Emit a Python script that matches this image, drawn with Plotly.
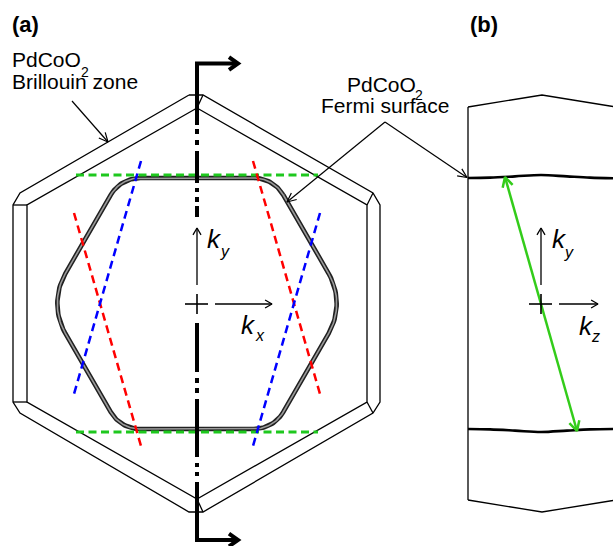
import math
import plotly.graph_objects as go

# ---------------- geometry (pixel-like coordinates, y grows downward) ----------------
CX, CY = 197.0, 303.5          # Gamma point of panel (a)

# Brillouin zone prism of panel (a): inner (front) hexagon and outer (back) outline
bz_inner_x = [197, 367, 367, 197, 27, 27, 197]
bz_inner_y = [108, 205, 402, 499, 402, 205, 108]
bz_outer_x = [189, 203, 373, 380, 380, 373, 203, 189, 20, 13, 13, 20, 189]
bz_outer_y = [95, 95, 193, 205, 402, 413, 512, 512, 413, 402, 205, 193, 95]
# short edges joining the two outlines
bz_link_x = [[203, 197], [197, 203], [367, 373], [367, 373], [13, 27], [13, 27]]
bz_link_y = [[95, 108], [499, 512], [205, 193], [402, 413], [205, 205], [402, 402]]

# Fermi surface: rounded hexagon given by face normals, face distances and the
# rounding radius of the corner that follows each face
fs_face_angle = [30, 90, 150, 210, 270, 330]
fs_face_dist = [129.0, 125.5, 129.0, 129.0, 125.5, 129.0]
fs_corner_r = [34.0, 34.0, 60.0, 34.0, 34.0, 60.0]

# nesting / extremal-orbit guide lines
green_x = [[76, 318], [76, 318]]
green_y = [[175, 175], [432, 432]]
red_x = [[74, 141], [253, 320]]
red_y = [[213, 446], [161, 394]]
blue_x = [[141, 74], [320, 253]]
blue_y = [[161, 394], [213, 446]]

# cut-plane axis (dash-dot-dot) drawn as solid pieces
axis_pieces = [(129, 134), (140, 145), (151, 183), (188, 192), (197, 202),
               (206, 217), (323, 372), (378, 383), (388, 393), (399, 457), (463, 467),
               (472, 476)]
axis_top = ([237, 197, 197], [63.5, 63.5, 125])
axis_bot = ([197, 197, 237], [482, 540, 540])

# panel (b): side cut of the zone
pb_left_x, pb_left_y = [468, 468], [107, 500]
pb_top_x, pb_top_y = [468, 542, 613], [107, 95, 106.5]
pb_bot_x, pb_bot_y = [468, 542, 613], [500, 512, 500.5]
fsb_x = [468, 490, 515, 541, 567, 590, 613]
fsb_top_y = [178, 177.6, 176.4, 175, 176.4, 177.6, 178.3]
fsb_bot_y = [429, 429.4, 430.6, 432, 430.6, 429.4, 429]
green_arrow = ((505, 177), (577, 431))

# leader lines
bz_leader = ((72, 101), (108, 142))
fs_leader_apex = (385, 122)
fs_leader_tips = [(287, 202), (467, 177.5)]

# local k-axes
ka_origin = (197, 304)
kb_origin = (541, 304)

FONT = "Liberation Sans, Arial, sans-serif"

fig = go.Figure()


def add_line(xs, ys, color="black", width=1.3, dash=None, shape="linear"):
    fig.add_trace(go.Scatter(x=xs, y=ys, mode="lines", hoverinfo="skip",
                             line=dict(color=color, width=width, dash=dash, shape=shape)))


def chevron(tip, tail, length, half_angle):
    dx, dy = tail[0] - tip[0], tail[1] - tip[1]
    n = math.hypot(dx, dy)
    ux, uy = dx / n, dy / n
    a = math.radians(half_angle)
    pts = []
    for s in (1, -1):
        c, si = math.cos(s * a), math.sin(s * a)
        pts.append((tip[0] + length * (ux * c - uy * si), tip[1] + length * (ux * si + uy * c)))
    return [pts[0][0], tip[0], pts[1][0]], [pts[0][1], tip[1], pts[1][1]]


def arrow(tail, tip, color="black", width=1.3, head=8, angle=30, both=False):
    add_line([tail[0], tip[0]], [tail[1], tip[1]], color, width)
    hx, hy = chevron(tip, tail, head, angle)
    add_line(hx, hy, color, width)
    if both:
        hx, hy = chevron(tail, tip, head, angle)
        add_line(hx, hy, color, width)


def rounded_polygon(angles, dists, radii, steps=24):
    """Outline of the polygon of half-planes (angle, dist) with every corner
    replaced by an arc tangent to both neighbouring faces."""
    xs, ys = [], []
    n = len(angles)
    for i in range(n):
        a1, a2 = math.radians(angles[i]), math.radians(angles[(i + 1) % n])
        d1, d2 = dists[i], dists[(i + 1) % n]
        r = radii[i]
        # arc centre c: c.n1 = d1 - r, c.n2 = d2 - r
        det = math.cos(a1) * math.sin(a2) - math.sin(a1) * math.cos(a2)
        b1, b2 = d1 - r, d2 - r
        cx = (b1 * math.sin(a2) - b2 * math.sin(a1)) / det
        cy = (math.cos(a1) * b2 - math.cos(a2) * b1) / det
        span = (a2 - a1) % (2 * math.pi)
        for j in range(steps + 1):
            t = a1 + span * j / steps
            xs.append(CX + cx + r * math.cos(t))
            ys.append(CY - (cy + r * math.sin(t)))
    xs.append(xs[0]); ys.append(ys[0])
    return xs, ys


# ---- Brillouin zone ----
add_line(bz_outer_x, bz_outer_y, width=1.3)
add_line(bz_inner_x, bz_inner_y, width=1.3)
for lx, ly in zip(bz_link_x, bz_link_y):
    add_line(lx, ly, width=1.3)

# ---- Fermi surface (double line) ----
fx, fy = rounded_polygon(fs_face_angle, fs_face_dist, fs_corner_r)
add_line(fx, fy, color="#202020", width=4.6)
add_line(fx, fy, color="#9a9a9a", width=1.6)

# ---- guide lines ----
for xs, ys in zip(green_x, green_y):
    add_line(xs, ys, color="#1ec81e", width=3, dash="8px,4.5px")
for xs, ys in zip(red_x, red_y):
    add_line(xs, ys, color="#ff0000", width=2.5, dash="8px,5px")
for xs, ys in zip(blue_x, blue_y):
    add_line(xs, ys, color="#0000ff", width=2.5, dash="8px,5px")

# ---- cut-plane axis ----
ax_x, ax_y = [], []
for y0, y1 in axis_pieces:
    ax_x += [CX, CX, None]
    ax_y += [y0, y1, None]
add_line(ax_x, ax_y, width=4)
add_line(axis_top[0], axis_top[1], width=4)
add_line(axis_bot[0], axis_bot[1], width=4)
hx, hy = chevron((238, 63.5), (197, 63.5), 11, 35)
add_line(hx, hy, width=4)
hx, hy = chevron((238, 540), (197, 540), 11, 35)
add_line(hx, hy, width=4)

# ---- panel (b) ----
add_line(pb_left_x, pb_left_y, width=1.3)
add_line(pb_top_x, pb_top_y, width=1.3)
add_line(pb_bot_x, pb_bot_y, width=1.3)
add_line(fsb_x, fsb_top_y, width=2.6, shape="spline")
add_line(fsb_x, fsb_bot_y, width=2.6, shape="spline")
arrow(green_arrow[0], green_arrow[1], color="#33cc1a", width=2.5, head=11, angle=28, both=True)

# ---- leaders ----
arrow(bz_leader[0], bz_leader[1], width=1.2, head=10, angle=25)
for tip in fs_leader_tips:
    arrow(fs_leader_apex, tip, width=1.2, head=10, angle=25)

# ---- local k axes ----
for (ox, oy), right_end in ((ka_origin, 272), (kb_origin, 598)):
    add_line([ox - 12, ox + 11], [oy, oy], width=1.6)
    add_line([ox, ox], [oy - 10, oy + 10], width=1.6)
    arrow((ox, oy - 19), (ox, oy - 76), width=1.3, head=8, angle=30)
    arrow((ox + 18, oy), (right_end, oy), width=1.3, head=8, angle=30)


# ---- text ----
def text(x, baseline, s, size, anchor="left", bold=False, italic=False):
    if bold:
        s = f"<b>{s}</b>"
    if italic:
        s = f"<i>{s}</i>"
    fig.add_annotation(x=x, y=baseline - 0.3465 * size, xref="x", yref="y", text=s,
                       showarrow=False, xanchor=anchor, yanchor="middle", borderpad=0,
                       font=dict(family=FONT, size=size, color="black"))


text(11, 32, "(a)", 22, bold=True)
text(469, 32, "(b)", 22, bold=True)
text(11, 67, "PdCoO", 21)
text(80, 77, "2", 14)
text(11, 89, "Brillouin zone", 21)
text(346, 92, "PdCoO", 21)
text(414, 100, "2", 14)
text(385, 113, "Fermi surface", 21, anchor="center")

for kx, kb, sx, sb, sub in ((206, 248, 219, 257, "y"), (240, 334, 254, 341, "x"),
                            (551, 248, 563, 258, "y"), (578, 335, 590, 342, "z")):
    text(kx, kb, "k", 26, italic=True)
    text(sx, sb, sub, 16, italic=True)

fig.update_layout(
    width=613, height=546, margin=dict(l=0, r=0, t=0, b=0),
    paper_bgcolor="white", plot_bgcolor="white", showlegend=False,
    xaxis=dict(range=[0, 613], visible=False, fixedrange=True),
    yaxis=dict(range=[546, 0], visible=False, fixedrange=True),
)
fig.write_html("out.html", config={"displayModeBar": False})
